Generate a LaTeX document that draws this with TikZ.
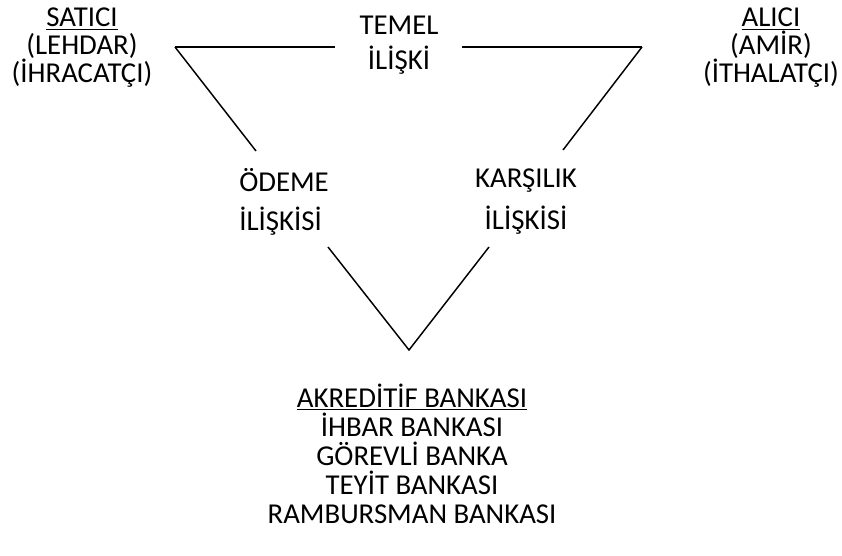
\documentclass[tikz,border=0pt]{standalone}
\usepackage{fontspec}
\setmainfont{Carlito}
\usetikzlibrary{positioning}
\lineskiplimit=-30pt

\begin{document}
\begin{tikzpicture}[x=0.75pt,y=-0.75pt]
\tikzset{party/.style={align=center,anchor=base,inner sep=0pt,
    font=\fontsize{21.6}{21}\selectfont},
  relation/.style={party,font=\fontsize{21.6}{30}\selectfont},
  side/.style={line width=1.1pt}}
\useasboundingbox (0,0) rectangle (842,556);
% taraflar
\node[party] (satici) at (82,83) {\underline{SATICI}\\(LEHDAR)\\(İHRACATÇI)};
\node[party] (alici) at (771,83) {\underline{ALICI}\\(AMİR)\\(İTHALATÇI)};
\node[party,font=\fontsize{21.6}{21.75}\selectfont] (banka) at (412,523) {\underline{AKREDİTİF BANKASI}\\İHBAR BANKASI\\GÖREVLİ BANKA\\TEYİT BANKASI\\RAMBURSMAN BANKASI};
% iliskiler
\node[relation,font=\fontsize{21.6}{26.25}\selectfont] (temel) at (399,70) {TEMEL\\İLİŞKİ};
\node[relation,font=\fontsize{21.6}{29.25}\selectfont,align=left,anchor=base west] (odeme) at (239,230) {ÖDEME\\İLİŞKİSİ};
\node[relation,font=\fontsize{21.6}{31.5}\selectfont] (karsilik) at (526,229) {KARŞILIK\\İLİŞKİSİ};
% ucgen
\coordinate (tl) at (175,47);
\coordinate (tm1) at (335,47);
\coordinate (tm2) at (462,47);
\coordinate (tr) at (642,47);
\coordinate (ld) at (256,151);
\coordinate (rd) at (563,150);
\coordinate (vl) at (328,247);
\coordinate (vr) at (489,247);
\coordinate (vb) at (409,350);
\draw[side] (tl) -- (tm1);
\draw[side] (tm2) -- (tr);
\draw[side] (tl) -- (ld);
\draw[side] (tr) -- (rd);
\draw[side] (vl) -- (vb) -- (vr);
\end{tikzpicture}
\end{document}
